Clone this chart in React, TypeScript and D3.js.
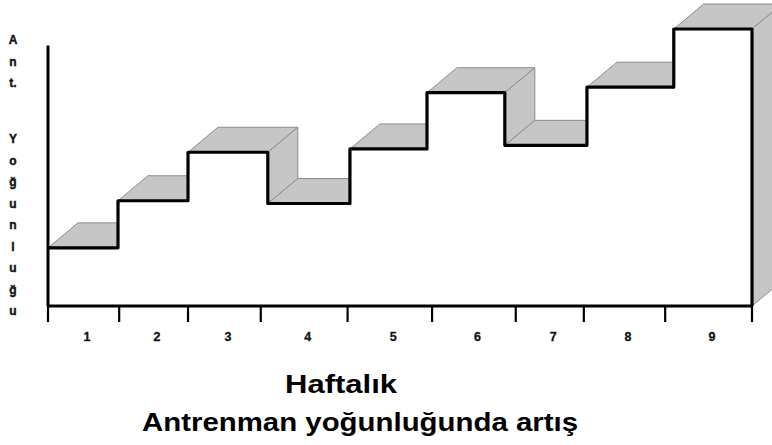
import React from "react";
import * as d3 from "d3";

// ---- data ----
const weeks = ["1", "2", "3", "4", "5", "6", "7", "8", "9"];
// training intensity per week (arbitrary units)
const intensity = [2.1, 3.8, 5.55, 3.7, 5.67, 7.7, 5.8, 7.9, 10];
// week boundaries of the stair steps (in week units)
const stepEdges = [0, 0.895, 1.79, 2.81, 3.86, 4.845, 5.84, 6.89, 8.0, 9];
// axis tick boundaries (in week units)
const tickEdges = [0, 0.91, 1.79, 2.72, 3.83, 4.91, 5.98, 6.85, 7.89, 9];
const yLabelTop = ["A", "n", "t."];
const yLabelBottom = ["Y", "o", "ğ", "u", "n", "l", "u", "ğ", "u"];
const xTitle = "Haftalık";
const chartTitle = "Antrenman yoğunluğunda artış";

const W = 772;
const H = 445;
const FONT = "'Liberation Sans', Arial, Helvetica, sans-serif";
const GRAY = "#c6c6c6";
const EDGE = "#8c8c8c";

export default function App() {
  const x = d3.scaleLinear().domain([0, 9]).range([48, 752]);
  const y = d3.scaleLinear().domain([0, 10]).range([306, 29]);
  const dx = 30;
  const dy = -25;
  const y0 = y(0);

  const line = d3.line<[number, number]>();

  // step profile points
  const profile: [number, number][] = [];
  intensity.forEach((v, i) => {
    profile.push([x(stepEdges[i]), y(v)]);
    profile.push([x(stepEdges[i + 1]), y(v)]);
  });

  const faces: [number, number][][] = [];
  intensity.forEach((v, i) => {
    const xa = x(stepEdges[i]);
    const xb = x(stepEdges[i + 1]);
    const yy = y(v);
    // top face
    faces.push([
      [xa, yy],
      [xb, yy],
      [xb + dx, yy + dy],
      [xa + dx, yy + dy],
    ]);
    // right-facing riser (drop to next step or to the base at the end)
    const next = i < intensity.length - 1 ? y(intensity[i + 1]) : y0;
    if (next > yy) {
      faces.push([
        [xb, yy],
        [xb + dx, yy + dy],
        [xb + dx, next + dy],
        [xb, next],
      ]);
    }
  });

  const front: [number, number][] = [
    [x(0), y0],
    ...profile,
    [x(9), y0],
  ];

  return (
    <svg
      width={W}
      height={H}
      style={{ position: "fixed", left: 0, top: 0, background: "#fff" }}
    >
      <rect width={W} height={H} fill="#fff" />
      {faces.map((f, i) => (
        <path
          key={"f" + i}
          d={line(f) + "Z"}
          fill={GRAY}
          stroke={EDGE}
          strokeWidth={1}
          strokeLinejoin="round"
        />
      ))}
      <path d={line(front) + "Z"} fill="#fff" stroke="none" />
      {/* step outline */}
      <path
        d={line([...profile, [x(9), y0]]) || ""}
        fill="none"
        stroke="#000"
        strokeWidth={3.2}
        strokeLinejoin="round"
      />
      {/* axes */}
      <line x1={x(0)} x2={x(0)} y1={y(9.4)} y2={y0} stroke="#000" strokeWidth={3} />
      <line x1={x(0)} x2={x(9)} y1={y0} y2={y0} stroke="#000" strokeWidth={3} />
      {tickEdges.map((t, i) => (
        <line
          key={"t" + i}
          x1={x(t)}
          x2={x(t)}
          y1={y0}
          y2={y0 + 16}
          stroke="#000"
          strokeWidth={2.2}
        />
      ))}
      {weeks.map((w, i) => (
        <text
          key={"w" + i}
          x={(x(tickEdges[i]) + x(tickEdges[i + 1])) / 2 + 3.5}
          y={341}
          textAnchor="middle"
          fontFamily={FONT}
          fontWeight="bold"
          fontSize={12.5}
          fill="#111"
          stroke="#111"
          strokeWidth={0.3}
        >
          {w}
        </text>
      ))}
      {yLabelTop.map((c, i) => (
        <text
          key={"a" + i}
          x={13}
          y={44 + i * 21.5}
          textAnchor="middle"
          fontFamily={FONT}
          fontWeight="bold"
          fontSize={12}
          fill="#111"
          stroke="#111"
          strokeWidth={0.4}
        >
          {c}
        </text>
      ))}
      {yLabelBottom.map((c, i) => (
        <text
          key={"b" + i}
          x={13}
          y={143 + i * 21.5}
          textAnchor="middle"
          fontFamily={FONT}
          fontWeight="bold"
          fontSize={12}
          fill="#111"
          stroke="#111"
          strokeWidth={0.4}
        >
          {c}
        </text>
      ))}
      <text
        x={341}
        y={393}
        textAnchor="middle"
        fontFamily={FONT}
        fontWeight="bold"
        fontSize={26}
        textLength={112}
        lengthAdjust="spacingAndGlyphs"
        fill="#000"
      >
        {xTitle}
      </text>
      <text
        x={360}
        y={431}
        textAnchor="middle"
        fontFamily={FONT}
        fontWeight="bold"
        fontSize={26}
        textLength={436}
        lengthAdjust="spacingAndGlyphs"
        fill="#000"
      >
        {chartTitle}
      </text>
    </svg>
  );
}
